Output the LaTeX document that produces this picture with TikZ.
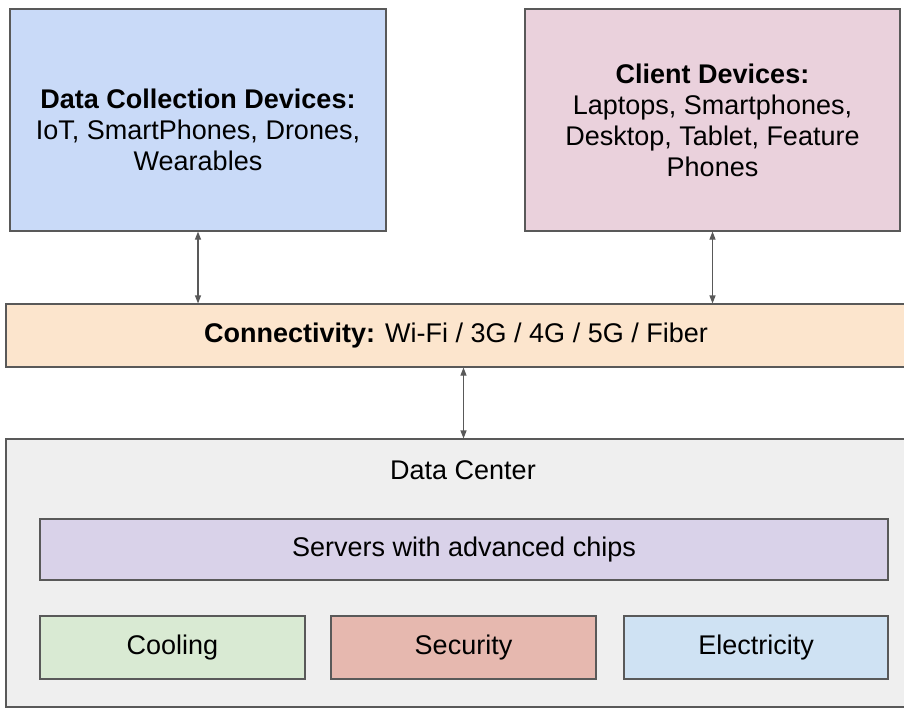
\documentclass[tikz,border=0pt]{standalone}
\usepackage{fontspec}
\setmainfont{Liberation Sans}
\usetikzlibrary{arrows.meta}
\definecolor{edgegray}{HTML}{595959}
\definecolor{collectblue}{HTML}{C9DAF8}
\definecolor{clientpink}{HTML}{EAD1DC}
\definecolor{connorange}{HTML}{FCE5CD}
\definecolor{centergray}{HTML}{EFEFEF}
\definecolor{serverpurple}{HTML}{D9D2E9}
\definecolor{coolgreen}{HTML}{D9EAD3}
\definecolor{securered}{HTML}{E6B8AF}
\definecolor{powerblue}{HTML}{CFE2F3}
\begin{document}
\begin{tikzpicture}[x=1pt,y=-1pt]
        % Define styles for nodes and edges
        \tikzstyle{box}=[rectangle, draw=edgegray, line width=1.1pt, inner sep=0pt, align=center, font=\fontsize{27}{31}\selectfont]
        \tikzstyle{link}=[{Triangle[width=6pt,length=8pt]}-{Triangle[width=6pt,length=8pt]}, draw=edgegray, line width=1.1pt]

        \useasboundingbox (0,0) rectangle (904,707);

        % Define boxes
        \node[box, fill=collectblue, minimum width=376pt, minimum height=222pt] (collect) at (198,120)
            {\rule{0pt}{40pt}\textbf{Data Collection Devices:}\\IoT, SmartPhones, Drones,\\Wearables};
        \node[box, fill=clientpink, minimum width=375pt, minimum height=222pt] (client) at (712.5,120)
            {\textbf{Client Devices:}\\Laptops, Smartphones,\\Desktop, Tablet, Feature\\Phones};
        \node[box, fill=connorange, minimum width=900pt, minimum height=63pt] (conn) at (456,335.5)
            {\textbf{Connectivity:} Wi-Fi / 3G / 4G / 5G / Fiber};
        \node[box, fill=centergray, minimum width=900pt, minimum height=268pt] (center) at (456,573) {};
        \node[font=\fontsize{27}{31}\selectfont] (centertitle) at (463,470) {Data Center};
        \node[box, fill=serverpurple, minimum width=848pt, minimum height=61pt] (servers) at (464,549.5)
            {Servers with advanced chips};
        \node[box, fill=coolgreen, minimum width=265pt, minimum height=63pt] (cooling) at (172.5,647.5) {Cooling};
        \node[box, fill=securered, minimum width=265pt, minimum height=63pt] (security) at (463.5,647.5) {Security};
        \node[box, fill=powerblue, minimum width=264pt, minimum height=63pt] (power) at (756,647.5) {Electricity};

        % Draw links
        \draw[link] (collect.south) -- (collect.south |- conn.north);
        \draw[link] (client.south) -- (client.south |- conn.north);
        \draw[link] (security |- conn.south) -- (security |- center.north);

      \end{tikzpicture}
\end{document}
